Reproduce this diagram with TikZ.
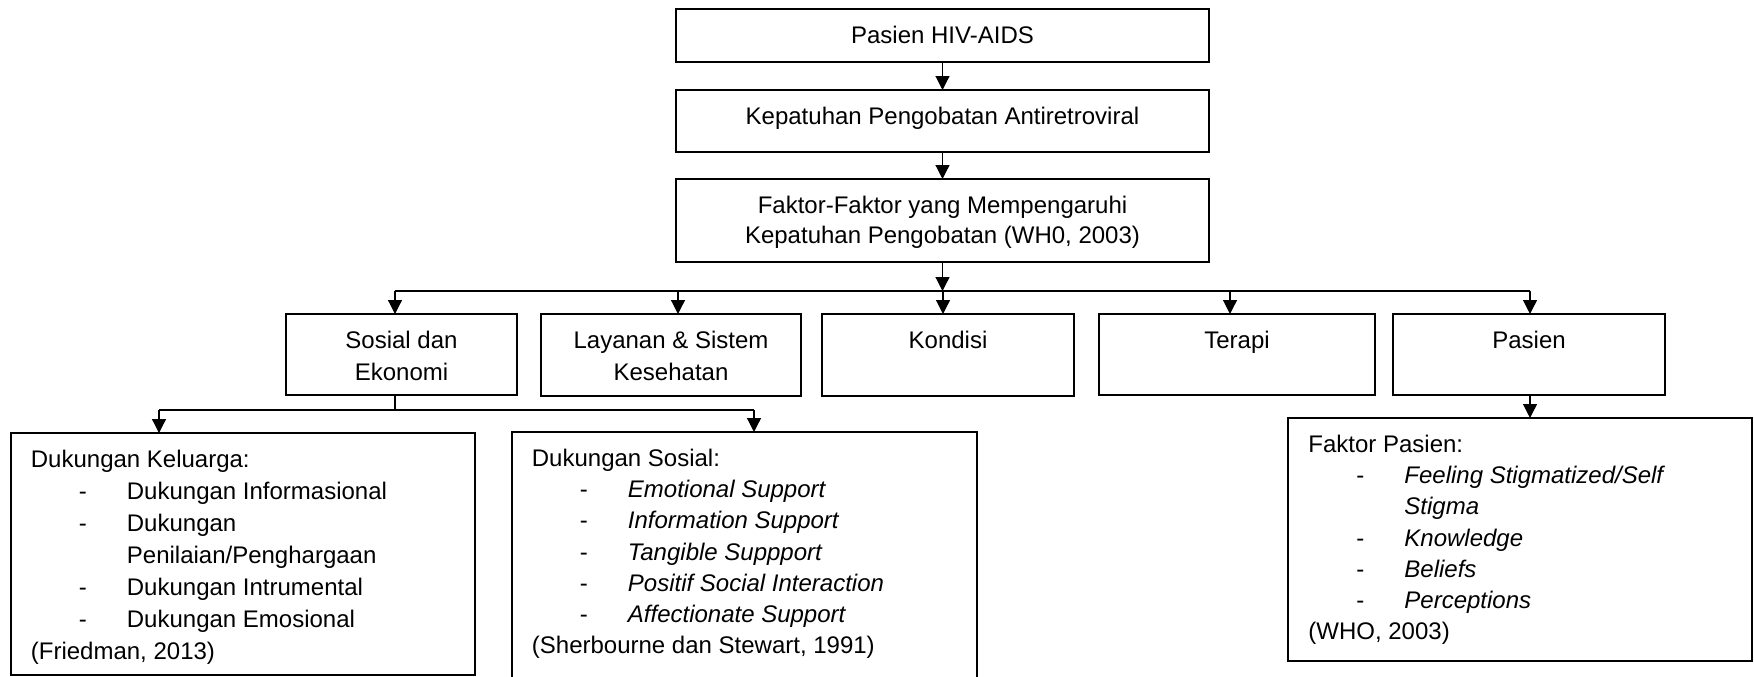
\documentclass[tikz,border=0pt]{standalone}
\usepackage{fontspec}
\setmainfont{Liberation Sans}
\usetikzlibrary{arrows.meta}
\newcommand{\mystrut}{\rule{0pt}{9pt}}
\newcommand{\itm}[1]{\hspace*{24pt}\makebox[24pt][l]{-}#1}
\newcommand{\cont}[1]{\hspace*{48pt}#1}
\begin{document}
\begin{tikzpicture}[x=0.5pt,y=-0.5pt,
  box/.style={draw, line width=0.9pt, anchor=north west, inner sep=0pt, outer sep=0pt},
  ctext/.style={anchor=north, inner sep=0pt, align=center, font=\fontsize{12pt}{16pt}\selectfont},
  ltext/.style={anchor=north west, inner sep=0pt, align=left, font=\fontsize{12pt}{16pt}\selectfont},
  conn/.style={line width=0.6pt},
  arr/.style={line width=0.6pt, -{Triangle[length=7pt,width=7pt]}},
]
\useasboundingbox (0,0) rectangle (1754,676);
\fill[white] (0,0) rectangle (1754,676);

% top column
\node[box, minimum width=266.5pt, minimum height=26.5pt] (b1) at (676,9) {};
\node[box, minimum width=266.5pt, minimum height=31pt] (b2) at (676,90) {};
\node[box, minimum width=266.5pt, minimum height=41.5pt] (b3) at (676,179) {};
\node[ctext] (t1) at ([yshift=-8pt]b1.north) {\mystrut Pasien HIV-AIDS};
\node[ctext] (t2) at ([yshift=-8pt]b2.north) {\mystrut Kepatuhan Pengobatan Antiretroviral};
\node[ctext, font=\fontsize{12pt}{15pt}\selectfont] (t3) at ([yshift=-8pt]b3.north) {\mystrut Faktor-Faktor yang Mempengaruhi\\Kepatuhan Pengobatan (WH0, 2003)};

% level 2
\node[box, minimum width=115.5pt, minimum height=40.5pt] (sos) at (286,314) {};
\node[box, minimum width=130pt, minimum height=41pt] (lay) at (541,314) {};
\node[box, minimum width=126pt, minimum height=41pt] (kon) at (822,314) {};
\node[box, minimum width=138pt, minimum height=40.5pt] (ter) at (1099,314) {};
\node[box, minimum width=136pt, minimum height=40.5pt] (pas) at (1393,314) {};
\node[ctext] (tsos) at ([yshift=-8pt]sos.north) {\mystrut Sosial dan\\Ekonomi};
\node[ctext] (tlay) at ([yshift=-8pt]lay.north) {\mystrut Layanan \& Sistem\\Kesehatan};
\node[ctext] (tkon) at ([yshift=-8pt]kon.north) {\mystrut Kondisi};
\node[ctext] (tter) at ([yshift=-8pt]ter.north) {\mystrut Terapi};
\node[ctext] (tpas) at ([yshift=-8pt]pas.north) {\mystrut Pasien};

% level 3
\node[box, minimum width=232pt, minimum height=121pt] (kel) at (11,433) {};
\node[box, minimum width=232.5pt, minimum height=130pt] (sos2) at (512,432) {};
\node[box, minimum width=232pt, minimum height=121.5pt] (fp) at (1288,418) {};
\node[ltext] (tkel) at ([xshift=9.75pt,yshift=-8pt]kel.north west)
  {\mystrut Dukungan Keluarga:\\
   \itm{Dukungan Informasional}\\
   \itm{Dukungan}\\
   \cont{Penilaian/Penghargaan}\\
   \itm{Dukungan Intrumental}\\
   \itm{Dukungan Emosional}\\
   (Friedman, 2013)};
\node[ltext, font=\fontsize{12pt}{15.6pt}\selectfont] (tsos2) at ([xshift=9.75pt,yshift=-8pt]sos2.north west)
  {\mystrut Dukungan Sosial:\\
   \itm{\textit{Emotional Support}}\\
   \itm{\textit{Information Support}}\\
   \itm{\textit{Tangible Suppport}}\\
   \itm{\textit{Positif Social Interaction}}\\
   \itm{\textit{Affectionate Support}}\\
   (Sherbourne dan Stewart, 1991)};
\node[ltext, font=\fontsize{12pt}{15.6pt}\selectfont] (tfp) at ([xshift=10pt,yshift=-8pt]fp.north west)
  {\mystrut Faktor Pasien:\\
   \itm{\textit{Feeling Stigmatized/Self}}\\
   \cont{\textit{Stigma}}\\
   \itm{\textit{Knowledge}}\\
   \itm{\textit{Beliefs}}\\
   \itm{\textit{Perceptions}}\\
   (WHO, 2003)};

% connectors
\coordinate (hub) at (943,291);
\coordinate (hl) at (395,291);
\coordinate (hlay) at (678,291);
\coordinate (hter) at (1230,291);
\coordinate (hr) at (1530,291);
\coordinate (ls) at (395,410);
\coordinate (lkl) at (159,410);
\coordinate (lkr) at (754,410);

\draw[arr] (b1.south) -- (b2.north);
\draw[arr] (b2.south) -- (b3.north);
\draw[arr] (b3.south) -- (b3.south |- hub);
\draw[conn] (hl) -- (hr);
\draw[arr] (hl) -- (sos.north -| hl);
\draw[arr] (hlay) -- (lay.north -| hlay);
\draw[arr] (hub) -- (kon.north -| hub);
\draw[arr] (hter) -- (ter.north -| hter);
\draw[arr] (hr) -- (pas.north -| hr);

\draw[conn] (sos.south -| ls) -- (ls);
\draw[conn] (lkl) -- (lkr);
\draw[arr] (lkl) -- (kel.north -| lkl);
\draw[arr] (lkr) -- (sos2.north -| lkr);
\draw[arr] (pas.south -| hr) -- (fp.north -| hr);
\end{tikzpicture}
\end{document}
